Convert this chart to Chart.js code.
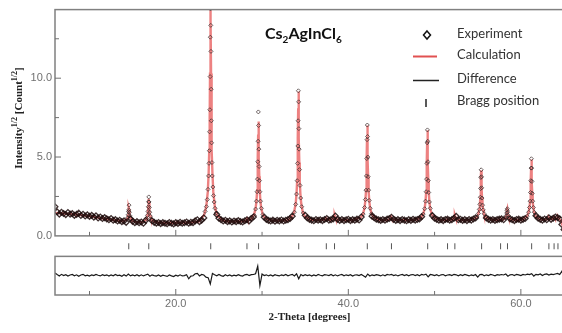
<!DOCTYPE html>
<html>
<head>
<meta charset="utf-8">
<script src="https://cdn.jsdelivr.net/npm/chart.js@4.4.1/dist/chart.umd.min.js"></script>
<style>
    html, body { margin: 0; padding: 0; background: #fff; overflow: hidden; }
    #wrap { width: 562px; height: 333px; overflow: hidden; }
</style>
</head>
<body>
<div id="wrap"><canvas id="xrd" width="575" height="333" style="width:575px;height:333px"></canvas></div>
<script>
var xrd = document.getElementById("xrd");

// scan grid of the background part of the measurement
const scanStart = 6.0;
const scanStep = 0.25;

// observed sqrt(intensity) on the scan grid, null where the peak points below take over
const observedScan = [
    1.85, 1.52, 1.38, 1.5,   1.42, 1.35, 1.48, 1.38,  1.41, 1.3, 1.36, 1.44,   1.29, 1.37, 1.26, 1.33,
    1.24, 1.3, 1.19, 1.27,   1.13, 1.2, 1.1, 1.16,    1.08, 1.02, 1.1, 0.99,   1.03, 0.94, 0.99, 0.9,
    0.95, 0.86, null, 1.08,  0.92, 0.84, 0.9, 0.83,   0.88, 0.8, 0.98, null,   null, 0.96, 0.86, 0.8,
    0.85, 0.78, 0.84, 0.8,   0.77, 0.85, 0.8, 0.76,   0.84, 0.79, 0.86, 0.8,   0.83, 0.88, 0.8, 0.86,
    0.84, 0.95, 1.02, 0.9,   1.0, 1.14, null, null,   null, null, null, 1.36,  1.12, 1.02, 0.94, 0.99,
    0.9, 0.95, 0.88, 0.94,   0.9, 0.97, 0.91, 0.88,   0.96, 1.02, 0.95, 1.1,   1.2, null, null, null,
    null, 1.18, 1.05, 0.98,  0.94, 1.0, 0.93, 0.99,   0.95, 1.01, 0.94, 0.99,  1.03, 1.1, 1.25, null,
    null, null, null, null,  1.3, 1.14, 1.05, 1.0,    0.96, 1.04, 0.99, 1.02,  0.97, 1.04, 1.1, 1.0,
    1.03, 1.08, 1.26, 1.05,  0.98, 1.04, 0.97, 1.02,  1.05, 0.97, 1.03, 0.99,  1.06, 1.01, 1.2, null,
    null, null, null, 1.25,  1.15, 1.06, 1.02, 0.98,  1.04, 0.99, 1.06, 1.1,   1.18, 1.05, 0.98, 1.03,
    0.97, 1.04, 1.0, 0.96,   1.03, 0.98, 1.05, 1.0,   1.04, 1.08, 1.22, null,  null, null, null, 1.28,
    1.12, 1.05, 0.99, 1.03,  0.97, 1.04, 1.06, 0.99,  1.03, 1.12, 1.24, 1.02,  1.05, 0.98, 1.03, 0.97,
    1.04, 1.0, 1.07, 1.14,   null, null, null, null,  1.14, 1.05, 1.0, 1.04,   0.98, 1.03, 1.06, 1.08,
    1.02, null, null, 1.08,  1.02, 0.97, 1.04, 1.06,  1.0, 1.05, 1.1, null,    null, null, null, 1.28,
    1.12, 1.05, 1.0, 1.07,   1.02, 1.15, 1.05, 1.12,  1.2, 1.16, 1.08, 0.72,
    0.4
];

// observed points on the reflections [2theta, sqrt(I)]
const observedPeaks = [
    [14.4, 1.13], [14.48, 1.34], [14.52, 1.55], [14.55, 1.65], [14.58, 1.95], [14.62, 1.5], [14.67, 1.28], [14.75, 1.1],
    [16.6, 1.1], [16.72, 1.3], [16.78, 1.55], [16.82, 1.85], [16.85, 2.16], [16.87, 2.47], [16.9, 2.15], [16.93, 1.8], [16.98, 1.5], [17.05, 1.25], [17.17, 1.05],
    [23.4, 1.55], [23.55, 1.85], [23.65, 2.3], [23.74, 2.95], [23.8, 3.8], [23.85, 4.6], [23.89, 5.4], [23.92, 6.6], [23.95, 8.0], [23.98, 10.1], [24.0, 12.6], [24.02, 14.4],
    [24.04, 14.9], [24.06, 13.35], [24.08, 11.7], [24.1, 9.3], [24.12, 7.3], [24.15, 5.9], [24.19, 4.65], [24.23, 3.8], [24.3, 3.1], [24.37, 2.55], [24.45, 2.15], [24.55, 1.75], [24.68, 1.45],
    [29.1, 1.3], [29.25, 1.7], [29.35, 2.2], [29.42, 2.8], [29.47, 3.6], [29.51, 4.7], [29.54, 6.0], [29.57, 7.86], [29.6, 7.0], [29.63, 5.5], [29.66, 4.4], [29.7, 3.5], [29.75, 2.8], [29.82, 2.2], [29.92, 1.75], [30.1, 1.35],
    [33.75, 1.5], [33.9, 2.0], [34.0, 2.65], [34.07, 3.5], [34.12, 4.6], [34.15, 5.7], [34.18, 7.3], [34.21, 9.2], [34.24, 8.5], [34.27, 6.8], [34.3, 5.5], [34.34, 4.2], [34.4, 3.2], [34.48, 2.4], [34.6, 1.85], [34.78, 1.45],
    [41.72, 1.38], [41.88, 1.8], [41.98, 2.3], [42.05, 2.9], [42.1, 3.8], [42.14, 4.9], [42.17, 6.1], [42.2, 7.03], [42.23, 6.3], [42.26, 5.0], [42.3, 3.75], [42.35, 2.9], [42.42, 2.25], [42.53, 1.75], [42.7, 1.4],
    [48.68, 1.38], [48.85, 1.72], [48.95, 2.2], [49.02, 2.8], [49.07, 3.6], [49.11, 4.6], [49.14, 5.9], [49.17, 6.72], [49.2, 6.0], [49.23, 4.7], [49.27, 3.5], [49.32, 2.75], [49.4, 2.15], [49.5, 1.75], [49.68, 1.35],
    [54.92, 1.2], [55.08, 1.42], [55.18, 1.68], [55.25, 2.0], [55.3, 2.45], [55.34, 3.0], [55.37, 3.7], [55.4, 4.19], [55.43, 3.75], [55.46, 3.05], [55.5, 2.4], [55.56, 1.95], [55.63, 1.65], [55.74, 1.4], [55.92, 1.2],
    [58.22, 1.15], [58.3, 1.28], [58.36, 1.45], [58.4, 1.62], [58.43, 1.72], [58.47, 1.5], [58.53, 1.3], [58.62, 1.15],
    [60.74, 1.25], [60.9, 1.5], [61.0, 1.8], [61.07, 2.2], [61.12, 2.75], [61.16, 3.5], [61.19, 4.3], [61.22, 4.89], [61.25, 4.3], [61.28, 3.45], [61.32, 2.7], [61.37, 2.2], [61.45, 1.8], [61.55, 1.5], [61.74, 1.25]
];

// calculated profile [2theta, sqrt(I)]
const calculated = [
    [6.0, 1.46], [7.0, 1.42], [8.0, 1.37], [9.0, 1.32], [10.0, 1.25], [11.0, 1.16], [12.0, 1.07], [13.0, 0.99], [13.8, 0.94],
    [14.25, 1.01], [14.35, 1.08], [14.42, 1.17], [14.47, 1.3], [14.51, 1.47], [14.54, 1.68], [14.57, 1.8], [14.6, 1.68], [14.63, 1.47], [14.67, 1.3], [14.72, 1.17], [14.79, 1.08], [14.89, 1.01],
    [15.3, 0.89], [16.0, 0.86],
    [16.37, 0.94], [16.55, 1.04], [16.65, 1.16], [16.72, 1.31], [16.77, 1.52], [16.81, 1.81], [16.84, 2.15], [16.87, 2.35], [16.9, 2.15], [16.93, 1.81], [16.97, 1.52], [17.02, 1.31], [17.09, 1.16], [17.19, 1.04], [17.37, 0.94],
    [18.0, 0.83], [19.0, 0.82], [20.0, 0.83], [21.0, 0.84], [22.0, 0.86], [22.7, 0.92],
    [23.28, 1.32], [23.53, 1.84], [23.71, 2.79], [23.81, 3.97], [23.88, 5.44], [23.93, 7.5], [23.97, 10.29], [24.0, 13.67], [24.03, 15.58], [24.06, 13.67], [24.09, 10.29], [24.13, 7.5], [24.18, 5.44], [24.25, 3.97], [24.35, 2.79], [24.53, 1.84], [24.78, 1.32],
    [25.4, 0.98], [26.0, 0.92], [27.0, 0.92], [27.7, 0.93],
    [28.1, 0.96], [28.2, 1.0], [28.27, 1.08], [28.34, 1.0], [28.44, 0.98],
    [28.83, 1.13], [29.08, 1.35], [29.26, 1.76], [29.36, 2.27], [29.43, 2.9], [29.48, 3.78], [29.52, 4.98], [29.55, 6.43], [29.58, 7.25], [29.61, 6.43], [29.64, 4.98], [29.68, 3.78], [29.73, 2.9], [29.8, 2.27], [29.9, 1.76], [30.08, 1.35], [30.33, 1.13],
    [31.0, 0.98], [32.0, 0.97], [33.0, 0.99],
    [33.47, 1.23], [33.72, 1.52], [33.9, 2.05], [34.0, 2.7], [34.07, 3.52], [34.12, 4.66], [34.16, 6.21], [34.19, 8.09], [34.22, 9.15], [34.25, 8.09], [34.28, 6.21], [34.32, 4.66], [34.37, 3.52], [34.44, 2.7], [34.54, 2.05], [34.72, 1.52], [34.97, 1.23],
    [35.6, 1.02], [36.5, 1.0],
    [37.34, 1.03], [37.44, 1.1], [37.54, 1.03],
    [37.9, 1.01], [38.12, 1.04], [38.3, 1.1], [38.37, 1.21], [38.42, 1.3], [38.47, 1.21], [38.54, 1.1], [38.72, 1.04],
    [39.5, 1.0], [40.5, 1.0],
    [41.45, 1.18], [41.7, 1.39], [41.88, 1.78], [41.98, 2.26], [42.05, 2.86], [42.1, 3.7], [42.14, 4.84], [42.17, 6.22], [42.2, 7.0], [42.23, 6.22], [42.26, 4.84], [42.3, 3.7], [42.35, 2.86], [42.42, 2.26], [42.52, 1.78], [42.7, 1.39], [42.95, 1.18],
    [43.6, 1.01], [44.4, 1.0],
    [44.65, 1.03], [44.83, 1.07], [44.9, 1.14], [44.95, 1.2], [45.0, 1.14], [45.07, 1.07], [45.25, 1.03],
    [46.0, 1.0], [47.0, 1.0], [47.8, 1.02],
    [48.42, 1.17], [48.67, 1.37], [48.85, 1.74], [48.95, 2.2], [49.02, 2.77], [49.07, 3.57], [49.11, 4.65], [49.14, 5.96], [49.17, 6.7], [49.2, 5.96], [49.23, 4.65], [49.27, 3.57], [49.32, 2.77], [49.39, 2.2], [49.49, 1.74], [49.67, 1.37], [49.92, 1.17],
    [50.6, 1.01], [51.4, 1.0], [51.5, 1.05], [51.6, 1.0],
    [52.05, 1.04], [52.23, 1.1], [52.3, 1.21], [52.35, 1.3], [52.4, 1.21], [52.47, 1.1], [52.65, 1.04],
    [53.2, 1.0], [54.1, 1.01],
    [54.65, 1.09], [54.9, 1.2], [55.08, 1.41], [55.18, 1.66], [55.25, 1.98], [55.3, 2.42], [55.34, 3.02], [55.37, 3.74], [55.4, 4.15], [55.43, 3.74], [55.46, 3.02], [55.5, 2.42], [55.55, 1.98], [55.62, 1.66], [55.72, 1.41], [55.9, 1.2], [56.15, 1.09],
    [56.8, 1.01], [57.55, 1.03], [57.65, 1.1], [57.75, 1.03], [57.9, 1.02],
    [58.1, 1.09], [58.2, 1.15], [58.27, 1.22], [58.32, 1.32], [58.36, 1.45], [58.39, 1.61], [58.42, 1.7], [58.45, 1.61], [58.48, 1.45], [58.52, 1.32], [58.57, 1.22], [58.64, 1.15], [58.74, 1.09],
    [59.3, 1.01], [60.0, 1.01],
    [60.47, 1.12], [60.72, 1.25], [60.9, 1.5], [61.0, 1.81], [61.07, 2.19], [61.12, 2.73], [61.16, 3.46], [61.19, 4.35], [61.22, 4.85], [61.25, 4.35], [61.28, 3.46], [61.32, 2.73], [61.37, 2.19], [61.44, 1.81], [61.54, 1.5], [61.72, 1.25], [61.97, 1.12],
    [62.5, 1.02], [63.15, 1.06], [63.25, 1.15], [63.35, 1.07], [63.75, 1.08], [63.85, 1.2], [63.95, 1.1], [64.2, 1.1], [64.3, 1.2], [64.4, 1.1], [64.6, 1.0], [64.8, 0.7], [65.0, 0.45]
];

// observed - calculated on the scan grid
const difference = [
    0.15, 0.05, -0.04, 0.06,  -0.02, 0.04, -0.05, 0.02,  0.05, -0.03, 0.03, -0.06,  0.02, 0.06, -0.03, 0.01,
    -0.05, 0.03, -0.02, 0.05, 0.0, -0.04, 0.04, -0.02,   0.03, -0.05, 0.02, -0.03,  0.05, -0.02, 0.01, -0.06,
    0.03, -0.05, 0.08, -0.04, 0.02, -0.03, 0.04, -0.05,  0.03, -0.04, 0.02, 0.07,   -0.06, 0.03, -0.02, -0.05,
    0.02, -0.06, 0.01, -0.03, -0.07, 0.02, -0.04, -0.08, 0.01, -0.05, 0.03, -0.04,  -0.02, 0.04, -0.22, -0.05,
    -0.03, 0.1, 0.12, -0.04,  0.05, 0.02, -0.12, -0.15,  -0.55, 0.12, 0.04, -0.03,  0.05, -0.02, -0.06, 0.03,
    -0.04, 0.02, -0.05, 0.01, -0.03, 0.04, -0.02, -0.05, 0.03, 0.06, -0.02, 0.04,   0.05, 0.1, 0.58, -0.65,
    0.08, -0.02, 0.03, -0.04, 0.02, -0.05, 0.04, -0.01,  -0.04, 0.03, -0.02, 0.05,  -0.03, 0.02, 0.06, -0.04,
    0.1, -0.22, 0.05, -0.03,  0.04, -0.02, 0.03, -0.05,  0.02, -0.04, 0.05, 0.0,    -0.03, 0.04, 0.02, -0.02,
    0.05, -0.03, 0.03, -0.04, 0.02, 0.05, -0.03, 0.03,   -0.02, 0.04, -0.05, 0.02,  0.03, -0.02, 0.05, -0.03,
    -0.12, 0.08, -0.04, 0.03, -0.02, 0.04, 0.01, -0.04,  0.03, -0.03, 0.05, 0.02,   0.06, -0.02, 0.03, -0.04,
    0.02, 0.05, -0.02, 0.04,  -0.03, 0.03, 0.05, -0.02,  0.04, -0.03, 0.06, 0.02,   0.07, -0.1, 0.05, 0.03,
    -0.02, 0.04, -0.04, 0.03, 0.05, -0.03, 0.02, 0.04,   -0.02, 0.06, 0.03, -0.03,  0.04, -0.02, 0.05, 0.01,
    -0.04, 0.03, -0.02, 0.05, -0.12, 0.04, 0.06, -0.03,  0.03, -0.02, 0.05, 0.02,   -0.03, 0.04, 0.01, 0.05,
    0.02, 0.08, -0.06, 0.03,  0.05, -0.02, 0.06, 0.03,   -0.02, 0.05, 0.02, 0.07,   0.04, 0.1, -0.05, 0.06,
    0.03, 0.08, -0.02, 0.06,  0.09, 0.02, 0.07, 0.04,    0.08, 0.12, 0.05, 0.25,
    -0.1
];

const braggPositions = [14.55, 16.87, 24.05, 28.25, 29.6, 34.25, 37.45, 38.4, 42.2, 45.0, 49.2, 51.5, 52.35, 55.45, 57.65, 58.45, 61.25, 63.25, 63.85, 64.3];

const xTickValues = [10, 20, 30, 40, 50, 60];
const yTickValues = [0, 2.5, 5, 7.5, 10, 12.5];

// where the lower panels sit on the shared y scale
const diffOffset = -2.5;
const braggLevel = -0.66;
const diffFrameTop = -1.3;

let scanData = [];
observedScan.forEach((v, i) => {
    if (v !== null) scanData.push({ x: scanStart + i * scanStep, y: v });
});
let peakData = observedPeaks.map((p) => ({ x: p[0], y: p[1] }));

let calculatedData = calculated.map((p) => ({ x: p[0], y: p[1] }));
let differenceData = difference.map((v, i) => ({ x: scanStart + i * scanStep, y: diffOffset + v }));
let braggData = braggPositions.map((b) => ({ x: b, y: braggLevel }));

function drawRich(ctx, parts, x, y, big, small, supShift, subShift) {
    let cx = x;
    parts.forEach((p) => {
        ctx.font = p[1] ? small : big;
        let dy = p[1] === "sup" ? -supShift : p[1] === "sub" ? subShift : 0;
        ctx.fillText(p[0], cx, y + dy);
        cx += ctx.measureText(p[0]).width;
    });
}

function richWidth(ctx, parts, big, small) {
    let w = 0;
    parts.forEach((p) => {
        ctx.font = p[1] ? small : big;
        w += ctx.measureText(p[0]).width;
    });
    return w;
}

const decorations = {
    id: "decorations",
    afterDatasetsDraw(chart) {
        const ctx = chart.ctx;
        const area = chart.chartArea;
        const xs = chart.scales.x;
        const ys = chart.scales.y;
        const mainBottom = ys.getPixelForValue(0);
        const diffTop = ys.getPixelForValue(diffFrameTop);

        ctx.save();
        // panel frames
        ctx.strokeStyle = "#808080";
        ctx.lineWidth = 1.5;
        ctx.strokeRect(area.left, area.top, area.right - area.left, mainBottom - area.top);
        ctx.strokeRect(area.left, diffTop, area.right - area.left, area.bottom - diffTop);

        // inward tick marks
        ctx.lineWidth = 1;
        ctx.strokeStyle = "#707070";
        xTickValues.forEach((v) => {
            const px = xs.getPixelForValue(v);
            const len = v % 20 === 0 ? 6 : 4;
            [mainBottom, area.bottom].forEach((b) => {
                ctx.beginPath();
                ctx.moveTo(px, b);
                ctx.lineTo(px, b - len);
                ctx.stroke();
            });
        });
        yTickValues.forEach((v) => {
            if (v === 0) return;
            const py = ys.getPixelForValue(v);
            const len = v % 5 === 0 ? 6 : 4;
            ctx.beginPath();
            ctx.moveTo(area.left, py);
            ctx.lineTo(area.left + len, py);
            ctx.stroke();
        });

        // y title, rotated, with superscripts
        const yParts = [["Intensity", null], ["1/2", "sup"], [" [Count", null], ["1/2", "sup"], ["]", null]];
        const bigSerif = "bold 11px 'Liberation Serif'";
        const smallSerif = "bold 8px 'Liberation Serif'";
        ctx.fillStyle = "#222";
        ctx.textBaseline = "alphabetic";
        ctx.textAlign = "left";
        ctx.save();
        ctx.translate(18, 118);
        ctx.rotate(-Math.PI / 2);
        let w = richWidth(ctx, yParts, bigSerif, smallSerif);
        drawRich(ctx, yParts, -w / 2, 4, bigSerif, smallSerif, 5, 0);
        ctx.restore();

        // x title
        ctx.font = bigSerif;
        ctx.textAlign = "center";
        ctx.fillText("2-Theta [degrees]", (area.left + area.right) / 2, 320);

        // compound label
        ctx.textAlign = "left";
        ctx.fillStyle = "#111";
        const tParts = [["Cs", null], ["2", "sub"], ["AgInCl", null], ["6", "sub"]];
        drawRich(ctx, tParts, 265, 39, "bold 16px Lato", "bold 10px Lato", 0, 4);

        // legend
        ctx.font = "13px Lato";
        ctx.fillStyle = "#333";
        ctx.textBaseline = "middle";
        ctx.fillText("Experiment", 457, 34);
        ctx.fillText("Calculation", 457, 55);
        ctx.fillText("Difference", 457, 79);
        ctx.fillText("Bragg position", 457, 101);

        ctx.strokeStyle = "#111";
        ctx.lineWidth = 1.5;
        ctx.beginPath();
        ctx.moveTo(427, 31);
        ctx.lineTo(430.5, 35);
        ctx.lineTo(427, 39);
        ctx.lineTo(423.5, 35);
        ctx.closePath();
        ctx.stroke();

        ctx.strokeStyle = "rgba(220, 50, 50, 0.85)";
        ctx.lineWidth = 2;
        ctx.beginPath();
        ctx.moveTo(413, 56.5);
        ctx.lineTo(437, 56.5);
        ctx.stroke();

        ctx.strokeStyle = "#222";
        ctx.lineWidth = 1.5;
        ctx.beginPath();
        ctx.moveTo(413, 80.5);
        ctx.lineTo(439, 80.5);
        ctx.stroke();

        ctx.beginPath();
        ctx.moveTo(426, 99);
        ctx.lineTo(426, 107);
        ctx.stroke();
        ctx.restore();
    },
};

new Chart(xrd, {
    type: "scatter",
    data: {
        datasets: [
            {
                label: "Experiment",
                data: scanData,
                pointStyle: "rectRot",
                pointRadius: 2.9,
                pointBorderWidth: 1.3,
                pointBorderColor: "rgba(30, 12, 12, 0.85)",
                pointBackgroundColor: "rgba(0, 0, 0, 0)",
                showLine: false,
                order: 0,
            },
            {
                label: "Experiment (reflections)",
                data: peakData,
                pointStyle: "rectRot",
                pointRadius: 2,
                pointBorderWidth: 1,
                pointBorderColor: "rgba(60, 45, 45, 0.75)",
                pointBackgroundColor: "rgba(0, 0, 0, 0)",
                showLine: false,
                order: 0,
            },
            {
                label: "Calculation",
                data: calculatedData,
                showLine: true,
                borderColor: "rgba(225, 45, 45, 0.6)",
                borderWidth: 2.4,
                pointRadius: 0,
                tension: 0,
                order: 1,
            },
            {
                label: "Difference",
                data: differenceData,
                showLine: true,
                borderColor: "#1a1a1a",
                borderWidth: 1.2,
                pointRadius: 0,
                tension: 0,
                order: 2,
            },
            {
                label: "Bragg position",
                data: braggData,
                pointStyle: "line",
                rotation: 90,
                pointRadius: 3,
                pointBorderWidth: 1,
                pointBorderColor: "#555",
                showLine: false,
                order: 3,
            },
        ],
    },
    options: {
        responsive: false,
        animation: false,
        devicePixelRatio: 1,
        events: [],
        layout: {
            padding: { top: 4, right: 11, left: 0, bottom: 0 },
        },
        scales: {
            x: {
                type: "linear",
                min: 6,
                max: 65,
                afterBuildTicks: (s) => {
                    s.ticks = xTickValues.map((v) => ({ value: v }));
                },
                afterFit: (s) => {
                    s.height = 38;
                },
                ticks: {
                    autoSkip: false,
                    maxRotation: 0,
                    padding: 2,
                    color: "#707070",
                    font: { family: "'Liberation Sans'", size: 11 },
                    callback: (v) => (v % 20 === 0 ? v.toFixed(1) : ""),
                },
                grid: { display: false, drawTicks: false },
                border: { display: false },
            },
            y: {
                type: "linear",
                min: -3.75,
                max: 14.35,
                afterBuildTicks: (s) => {
                    s.ticks = yTickValues.map((v) => ({ value: v }));
                },
                afterFit: (s) => {
                    s.width = 55;
                },
                ticks: {
                    autoSkip: false,
                    padding: 3,
                    color: "#707070",
                    font: { family: "'Liberation Sans'", size: 11 },
                    callback: (v) => (v % 5 === 0 ? v.toFixed(1) : ""),
                },
                grid: { display: false, drawTicks: false },
                border: { display: false },
            },
        },
        plugins: {
            legend: { display: false },
            tooltip: { enabled: false },
            title: { display: false },
        },
    },
    plugins: [decorations],
});
</script>
</body>
</html>
